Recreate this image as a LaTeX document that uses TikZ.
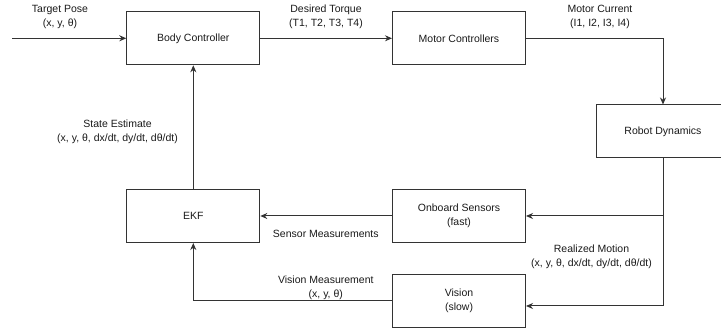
\documentclass[tikz,border=0pt]{standalone}
\usepackage{fontspec}
\setmainfont{Liberation Sans}
\usetikzlibrary{arrows.meta,calc}
\newcommand{\lblfont}{\fontsize{10.5}{13.5}\selectfont}
\definecolor{linec}{HTML}{333333}
\definecolor{txt}{HTML}{1A1A1A}
\begin{document}
\begin{tikzpicture}[x=1pt,y=-1pt,
  box/.style={draw=linec, line width=1pt, minimum width=133pt, minimum height=53pt, inner sep=0pt, align=center, font=\lblfont, text=txt},
  lbl/.style={align=center, font=\lblfont, text=txt, inner sep=0pt},
  conn/.style={draw=linec, line width=1pt, -{Stealth[length=7pt,width=6pt]}},
  plain/.style={draw=linec, line width=1pt},
]
\useasboundingbox (0,0) rectangle (721,328);
\fill[white] (0,0) rectangle (721,328);

\node[box] (body) at (193.3,38.3) {Body Controller};
\node[box] (motor) at (459,38.3) {Motor Controllers};
\node[box] (dyn) at (663,131.5) {Robot Dynamics};
\node[box] (ekf) at (193.3,216) {EKF};
\node[box] (onboard) at (459,216) {Onboard Sensors\\(fast)};
\node[box] (vision) at (459,301) {Vision\\(slow)};

\coordinate (in) at (12,38.3);
\coordinate (vin) at ($(vision.east)+(0,5)$);

\draw[conn] (in) -- (body.west);
\draw[conn] (body.east) -- (motor.west);
\draw[conn] (motor.east) -| (dyn.north);
\draw[conn] (dyn.south) -- (dyn.south |- vin) -- (vin);
\draw[conn] (dyn.south |- onboard.east) -- (onboard.east);
\draw[conn] (onboard.west) -- (ekf.east);
\draw[conn] (vision.west) -| (ekf.south);
\draw[conn] (ekf.north) -- (body.south);

\node[lbl] (ltarget) at (60,17) {Target Pose\\(x, y, θ)};
\node[lbl] (ltorque) at (326,17) {Desired Torque\\(T1, T2, T3, T4)};
\node[lbl] (lcurrent) at (600,17) {Motor Current\\(I1, I2, I3, I4)};
\node[lbl] (lstate) at (117.5,132) {State Estimate\\(x, y, θ, dx/dt, dy/dt, dθ/dt)};
\node[lbl] (lsensor) at (325.8,234) {Sensor Measurements};
\node[lbl] (lvision) at (325.8,288) {Vision Measurement\\(x, y, θ)};
\node[lbl] (lmotion) at (591.5,257) {Realized Motion\\(x, y, θ, dx/dt, dy/dt, dθ/dt)};
\end{tikzpicture}
\end{document}
